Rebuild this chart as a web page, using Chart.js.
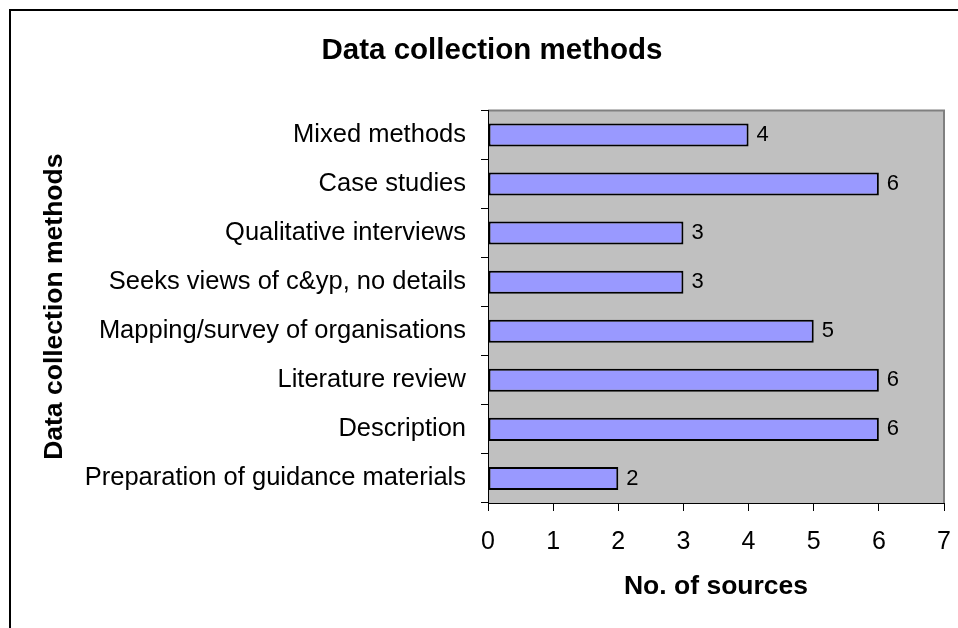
<!DOCTYPE html>
<html>
<head>
<meta charset="utf-8">
<script src="https://cdn.jsdelivr.net/npm/chart.js@4.4.1/dist/chart.umd.min.js"></script>
<style>
  html, body { margin: 0; padding: 0; background: #fff; overflow: hidden; width: 958px; height: 628px; }
  #frame { position: absolute; left: 9px; top: 9px; width: 964px; height: 620px; border: 2px solid #000; background: #fff; }
  canvas { display: block; }
</style>
</head>
<body>
<div id="frame"><canvas id="c" width="964" height="620"></canvas></div>
<script>
const categories = [
  "Mixed methods",
  "Case studies",
  "Qualitative interviews",
  "Seeks views of c&yp, no details",
  "Mapping/survey of organisations",
  "Literature review",
  "Description",
  "Preparation of guidance materials"
];
const sources = [4, 6, 3, 3, 5, 6, 6, 2];
const xTicks = [0, 1, 2, 3, 4, 5, 6, 7];
const chartTitle = "Data collection methods";
const yTitle = "Data collection methods";
const xTitle = "No. of sources";

const FONT = "'Liberation Sans', Arial, sans-serif";

const plotBg = {
  id: 'plotBg',
  beforeDraw(chart) {
    const { ctx, chartArea: a } = chart;
    ctx.save();
    ctx.fillStyle = '#c0c0c0';
    ctx.fillRect(a.left, a.top, a.right - a.left, a.bottom - a.top);
    ctx.strokeStyle = '#808080';
    ctx.lineWidth = 2;
    ctx.beginPath();
    ctx.moveTo(a.left, a.top);
    ctx.lineTo(a.right, a.top);
    ctx.lineTo(a.right, a.bottom);
    ctx.stroke();
    ctx.restore();
  }
};

const valueLabels = {
  id: 'valueLabels',
  afterDatasetsDraw(chart) {
    const { ctx } = chart;
    const meta = chart.getDatasetMeta(0);
    ctx.save();
    ctx.fillStyle = '#000';
    ctx.font = '22px ' + FONT;
    ctx.textAlign = 'left';
    ctx.textBaseline = 'middle';
    meta.data.forEach((bar, i) => {
      ctx.fillText(String(chart.data.datasets[0].data[i]), bar.x + 8, bar.y);
    });
    ctx.restore();
  }
};

new Chart(document.getElementById('c'), {
  type: 'bar',
  data: {
    labels: categories,
    datasets: [{
      data: sources,
      backgroundColor: '#9999ff',
      borderColor: '#000000',
      borderWidth: 2,
      borderSkipped: false,
      barPercentage: 1,
      categoryPercentage: 0.47
    }]
  },
  options: {
    indexAxis: 'y',
    responsive: false,
    devicePixelRatio: 1,
    animation: false,
    layout: { padding: { left: 0, right: 2, top: 0, bottom: 3 } },
    plugins: {
      legend: { display: false },
      tooltip: { enabled: false },
      title: {
        display: true,
        text: chartTitle,
        color: '#000',
        font: { family: FONT, size: 29.5, weight: 'bold' },
        padding: { top: 22, bottom: 42 }
      }
    },
    scales: {
      x: {
        type: 'linear',
        min: 0,
        max: 7,
        afterFit(scale) { scale.height = 125; },
        afterBuildTicks(scale) { scale.ticks = xTicks.map(v => ({ value: v })); },
        ticks: { color: '#000', font: { family: FONT, size: 25 }, padding: 16, stepSize: 1 },
        grid: { drawOnChartArea: false, drawTicks: true, tickLength: 8, color: '#000', lineWidth: 1 },
        border: { display: true, color: '#000', width: 1 },
        title: {
          display: true,
          text: xTitle,
          color: '#000',
          font: { family: FONT, size: 26.5, weight: 'bold' },
          padding: { top: 0, bottom: 25 }
        }
      },
      y: {
        type: 'category',
        afterFit(scale) { scale.width = 477; },
        ticks: { color: '#000', font: { family: FONT, size: 25.5 }, padding: 15 },
        grid: { offset: true, drawOnChartArea: false, drawTicks: true, tickLength: 7, color: '#000', lineWidth: 1 },
        border: { display: true, color: '#000', width: 1 },
        title: {
          display: true,
          text: yTitle,
          color: '#000',
          font: { family: FONT, size: 26.5, weight: 'bold' },
          padding: { top: 28, bottom: 0 }
        }
      },
      yRight: {
        type: 'category',
        position: 'right',
        afterFit(scale) { scale.width = 29; },
        ticks: { display: false },
        grid: { display: false },
        border: { display: false },
        title: { display: false }
      }
    }
  },
  plugins: [plotBg, valueLabels]
});
</script>
</body>
</html>
